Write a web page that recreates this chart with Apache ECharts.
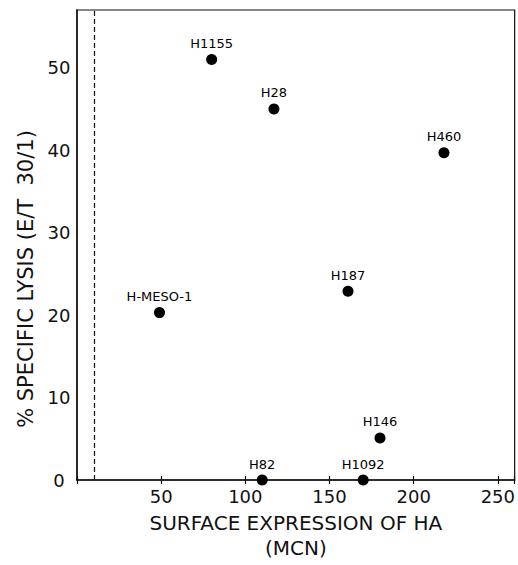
<!DOCTYPE html>
<html>
<head>
<meta charset="utf-8">
<script src="https://cdn.jsdelivr.net/npm/echarts@6/dist/echarts.min.js"></script>
<style>
html,body{margin:0;padding:0;background:#fff;}
#chart{width:518px;height:565px;}
</style>
</head>
<body>
<div id="chart"></div>
<script>
// Data
var cellLines = ['H1155', 'H28', 'H460', 'H187', 'H-MESO-1', 'H146', 'H82', 'H1092'];
var haExpression = [80, 117, 218, 161, 49, 180, 110, 170];      // MCN
var specificLysis = [51, 45, 39.7, 22.9, 20.3, 5.1, 0, 0];        // % (E/T 30/1)
var xTicks = [50, 100, 150, 200, 250];
var yTicks = [0, 10, 20, 30, 40, 50];
var cutoffX = 10;

var FONT = 'DejaVu Sans';
var points = cellLines.map(function (n, i) { return { name: n, value: [haExpression[i], specificLysis[i]] }; });

var chart = echarts.init(document.getElementById('chart'), null, { renderer: 'svg' });
chart.setOption({
  animation: false,
  backgroundColor: '#fff',
  grid: { left: 77, right: 1, top: 10, bottom: 79, show: true, borderColor: '#111', borderWidth: 1.2, backgroundColor: 'transparent' },
  xAxis: [{
    type: 'value', min: 0, max: 260, interval: 50,
    axisLine: { lineStyle: { color: '#111', width: 1.5 } },
    axisTick: { show: true, length: 4, lineStyle: { color: '#111', width: 1.2 } },
    splitLine: { show: false },
    axisLabel: {
      color: '#111', fontFamily: FONT, fontSize: 18, margin: 7,
      formatter: function (v) { return xTicks.indexOf(v) >= 0 ? String(v) : ''; }
    },
    name: 'SURFACE EXPRESSION OF HA\n(MCN)',
    nameLocation: 'middle', nameGap: 30,
    nameTextStyle: { color: '#111', fontFamily: FONT, fontSize: 20, lineHeight: 25, align: 'center' }
  }, {
    type: 'value', min: 0, max: 260, interval: 50, position: 'bottom',
    axisLine: { show: false },
    axisTick: { show: true, inside: true, length: 4, lineStyle: { color: '#111', width: 1.2 } },
    axisLabel: { show: false }, splitLine: { show: false }
  }],
  yAxis: {
    type: 'value', min: 0, max: 57, interval: 10,
    axisLine: { show: true, lineStyle: { color: '#111', width: 1.5 } },
    axisTick: { show: false },
    splitLine: { show: false },
    axisLabel: {
      color: '#111', fontFamily: FONT, fontSize: 18, margin: 18, align: 'center',
      formatter: function (v) { return yTicks.indexOf(v) >= 0 ? String(v) : ''; }
    }
  },
  graphic: [{
    type: 'text', x: 26, y: 279, rotation: Math.PI / 2,
    style: {
      text: '% SPECIFIC LYSIS (E/T  30/1)', fill: '#111',
      font: '21px "DejaVu Sans"', textAlign: 'center', textVerticalAlign: 'middle'
    }
  }],
  series: [{
    type: 'scatter',
    data: points,
    symbol: 'circle', symbolSize: 11,
    itemStyle: { color: '#000', opacity: 1 },
    label: {
      show: true, position: 'top', distance: 4,
      formatter: '{b}', color: '#000', fontFamily: FONT, fontSize: 13
    },
    markLine: {
      silent: true, symbol: 'none',
      label: { show: false },
      lineStyle: { color: '#111', type: [5, 3], width: 1.2 },
      data: [{ xAxis: cutoffX }]
    },
    z: 5
  }]
});
</script>
</body>
</html>
